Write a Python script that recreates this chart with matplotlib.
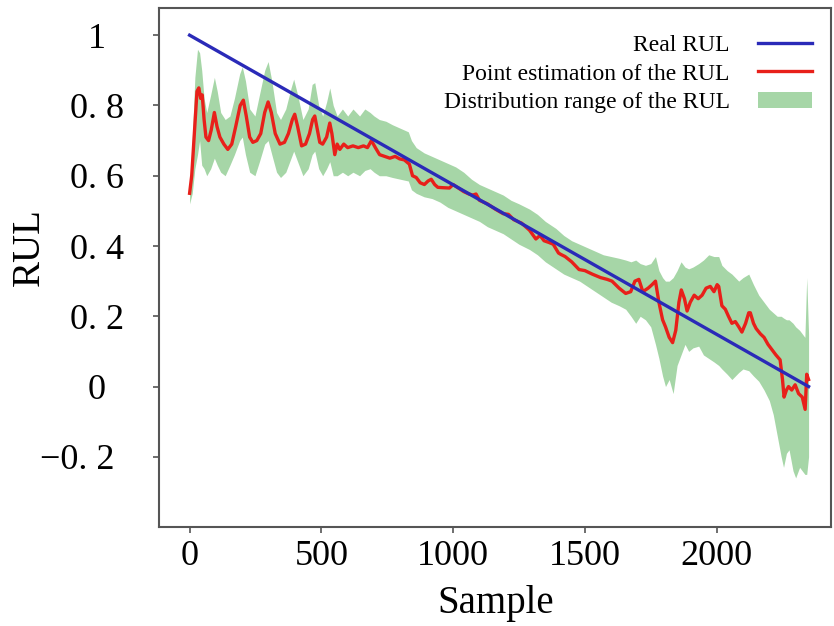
import matplotlib
matplotlib.use("Agg")
import matplotlib.pyplot as plt
from matplotlib.transforms import ScaledTranslation
import numpy as np

plt.rcParams["font.family"] = ["Liberation Serif", "DejaVu Serif"]

# real RUL: straight line from 1 to 0
real_x = [0, 2349]
real_y = [1.0, 0.0]

# point estimate of the RUL
est_x = [0, 8, 18, 28, 35, 42, 48, 55, 62, 72, 82, 94, 104, 115, 130, 145, 160, 175, 192, 204,
         215, 228, 240, 255, 270, 285, 298, 310, 325, 343, 360, 375, 390, 399, 410, 425, 440, 455,
         467, 475, 485, 494, 505, 520, 532, 540, 551, 560, 570, 585, 600, 620, 640, 660, 675, 690,
         705, 721, 740, 760, 780, 797, 815, 834, 846, 860, 875, 891, 905, 917, 930, 942, 960, 986,
         1000, 1020, 1040, 1060, 1075, 1087, 1100, 1130, 1160, 1190, 1210, 1230, 1260, 1290, 1314,
         1330, 1345, 1364, 1380, 1400, 1409, 1425, 1450, 1478, 1500, 1528, 1560, 1585, 1603, 1630,
         1655, 1674, 1690, 1705, 1720, 1740, 1755, 1768, 1781, 1795, 1806, 1820, 1833, 1845, 1857,
         1866, 1878, 1888, 1900, 1915, 1930, 1945, 1960, 1976, 1990, 2002, 2008, 2020, 2033, 2045,
         2058, 2071, 2084, 2096, 2110, 2122, 2128, 2140, 2150, 2166, 2180, 2195, 2210, 2225, 2241,
         2250, 2256, 2265, 2273, 2285, 2298, 2311, 2325, 2336, 2342, 2349]
est_y = [0.55, 0.60, 0.72, 0.84, 0.85, 0.82, 0.83, 0.76, 0.71, 0.70, 0.73, 0.78, 0.74, 0.71, 0.69,
         0.675, 0.69, 0.74, 0.80, 0.815, 0.77, 0.71, 0.695, 0.70, 0.72, 0.78, 0.81, 0.78, 0.72, 0.69,
         0.695, 0.72, 0.76, 0.775, 0.74, 0.685, 0.69, 0.72, 0.76, 0.77, 0.73, 0.695, 0.69, 0.71, 0.75,
         0.72, 0.66, 0.69, 0.675, 0.69, 0.68, 0.685, 0.68, 0.685, 0.68, 0.70, 0.68, 0.66, 0.655, 0.65,
         0.655, 0.648, 0.645, 0.633, 0.60, 0.595, 0.58, 0.575, 0.585, 0.59, 0.575, 0.567, 0.566,
         0.565, 0.575, 0.565, 0.555, 0.548, 0.545, 0.548, 0.53, 0.52, 0.505, 0.492, 0.49, 0.475,
         0.465, 0.445, 0.42, 0.43, 0.415, 0.41, 0.405, 0.38, 0.376, 0.37, 0.355, 0.333, 0.33, 0.32,
         0.31, 0.305, 0.30, 0.28, 0.265, 0.27, 0.30, 0.305, 0.27, 0.28, 0.29, 0.30, 0.24, 0.19, 0.17,
         0.14, 0.125, 0.16, 0.24, 0.275, 0.25, 0.215, 0.24, 0.26, 0.25, 0.26, 0.28, 0.285, 0.27, 0.29,
         0.285, 0.23, 0.22, 0.20, 0.18, 0.185, 0.17, 0.155, 0.18, 0.21, 0.21, 0.18, 0.165, 0.15, 0.14,
         0.12, 0.105, 0.09, 0.076, 0.02, -0.03, -0.01, 0.0, -0.01, 0.005, -0.02, -0.03, -0.065, 0.035,
         0.02]

# distribution range (upper / lower edge)
band_x = [0, 10, 20, 30, 38, 46, 55, 65, 80, 94, 105, 118, 135, 153, 170, 190, 200, 212, 228, 248,
          265, 285, 298, 312, 330, 345, 365, 385, 395, 410, 430, 450, 465, 475, 490, 505, 520, 532,
          545, 560, 580, 600, 620, 645, 665, 685, 700, 720, 745, 770, 800, 830, 842, 860, 890, 920,
          950, 980, 1010, 1040, 1070, 1100, 1130, 1160, 1190, 1220, 1250, 1290, 1320, 1350, 1390,
          1420, 1450, 1480, 1510, 1540, 1570, 1600, 1630, 1655, 1675, 1693, 1710, 1730, 1750, 1768,
          1781, 1795, 1806, 1820, 1835, 1850, 1865, 1880, 1894, 1910, 1932, 1950, 1970, 1990, 2008,
          2020, 2040, 2058, 2084, 2100, 2122, 2140, 2160, 2180, 2200, 2215, 2230, 2245, 2254, 2265,
          2275, 2290, 2300, 2315, 2325, 2335, 2342, 2349]
band_hi = [0.56, 0.70, 0.88, 0.96, 0.95, 0.90, 0.82, 0.78, 0.83, 0.88, 0.84, 0.78, 0.76, 0.77, 0.82,
           0.89, 0.91, 0.87, 0.79, 0.77, 0.83, 0.90, 0.925, 0.87, 0.78, 0.76, 0.79, 0.85, 0.875,
           0.83, 0.76, 0.79, 0.86, 0.865, 0.80, 0.77, 0.81, 0.85, 0.80, 0.77, 0.79, 0.77, 0.79, 0.77,
           0.79, 0.78, 0.77, 0.76, 0.755, 0.745, 0.735, 0.725, 0.70, 0.68, 0.665, 0.655, 0.645,
           0.635, 0.625, 0.61, 0.59, 0.575, 0.565, 0.555, 0.545, 0.53, 0.52, 0.505, 0.49, 0.47, 0.45,
           0.43, 0.415, 0.405, 0.395, 0.385, 0.375, 0.37, 0.365, 0.36, 0.355, 0.36, 0.35, 0.345, 0.35,
           0.37, 0.33, 0.31, 0.30, 0.30, 0.31, 0.33, 0.355, 0.34, 0.335, 0.34, 0.35, 0.36, 0.375,
           0.37, 0.37, 0.345, 0.33, 0.32, 0.30, 0.31, 0.32, 0.29, 0.26, 0.24, 0.22, 0.21, 0.20, 0.20,
           0.195, 0.19, 0.19, 0.18, 0.17, 0.16, 0.15, 0.14, 0.31, 0.15]
band_lo = [0.52, 0.55, 0.62, 0.66, 0.70, 0.63, 0.62, 0.60, 0.62, 0.65, 0.63, 0.61, 0.60, 0.63, 0.66,
           0.70, 0.71, 0.66, 0.61, 0.60, 0.64, 0.69, 0.70, 0.66, 0.61, 0.595, 0.61, 0.65, 0.67, 0.64,
           0.60, 0.62, 0.66, 0.67, 0.62, 0.60, 0.62, 0.64, 0.60, 0.60, 0.61, 0.60, 0.61, 0.60, 0.615,
           0.62, 0.61, 0.60, 0.60, 0.595, 0.59, 0.585, 0.56, 0.55, 0.54, 0.535, 0.525, 0.51, 0.50,
           0.49, 0.48, 0.47, 0.455, 0.445, 0.435, 0.42, 0.405, 0.39, 0.375, 0.355, 0.335, 0.32, 0.31,
           0.30, 0.285, 0.27, 0.255, 0.24, 0.23, 0.22, 0.20, 0.18, 0.20, 0.19, 0.17, 0.12, 0.08, 0.03,
           0.00, 0.02, -0.02, 0.06, 0.09, 0.12, 0.10, 0.11, 0.115, 0.09, 0.08, 0.07, 0.06, 0.05,
           0.035, 0.02, 0.04, 0.05, 0.045, 0.03, 0.015, -0.01, -0.04, -0.08, -0.14, -0.20, -0.23,
           -0.19, -0.18, -0.24, -0.26, -0.23, -0.24, -0.25, -0.25, -0.20]

ytick_vals = [-0.2, 0, 0.2, 0.4, 0.6, 0.8, 1]
ytick_text = ["\u22120. 2", "0", "0. 2", "0. 4", "0. 6", "0. 8", "1"]
xtick_vals = [0, 500, 1000, 1500, 2000]

fig = plt.figure(figsize=(8.34, 6.26), dpi=100)
ax = fig.add_axes([0.191, 0.158, 0.806, 0.829])

ax.fill_between(band_x, band_lo, band_hi, color="#a6d6a7", linewidth=0,
                label="Distribution range of the RUL", zorder=1)
ax.plot(est_x, est_y, color="#e8201a", lw=2.4, label="Point estimation of the RUL", zorder=2)
ax.plot(real_x, real_y, color="#2a2ab8", lw=2.4, label="Real RUL", zorder=3)

ax.set_xlim(-115, 2436)
ax.set_ylim(-0.40, 1.077)
ax.set_xticks(xtick_vals)
ax.set_xticklabels([str(v) for v in xtick_vals])
ax.set_yticks(ytick_vals)
ax.set_yticklabels(ytick_text, ha="center")
ax.tick_params(axis="x", labelsize=26, length=4, width=1.2, color="#555555", pad=5)
ax.tick_params(axis="y", labelsize=26, length=4, width=1.2, color="#555555", pad=41)
# the negative label sits a little further left in the original
ax.get_yticklabels()[0].set_transform(
    ax.get_yticklabels()[0].get_transform() + ScaledTranslation(-0.2, 0, fig.dpi_scale_trans))

for s in ax.spines.values():
    s.set_color("#555555")
    s.set_linewidth(1.5)

ax.set_xlabel("Sample", fontsize=28, labelpad=9)
ax.set_ylabel("RUL", fontsize=28)
ax.yaxis.set_label_coords(-0.166, 0.54)

h, l = ax.get_legend_handles_labels()
order = [2, 1, 0]
ax.legend([h[i] for i in order], [l[i] for i in order], loc="upper right",
          frameon=False, markerfirst=False, fontsize=17, handlelength=2.3,
          handletextpad=1.2, labelspacing=0.3, bbox_to_anchor=(1.003, 0.99))

fig.savefig("out.png", dpi=100)
